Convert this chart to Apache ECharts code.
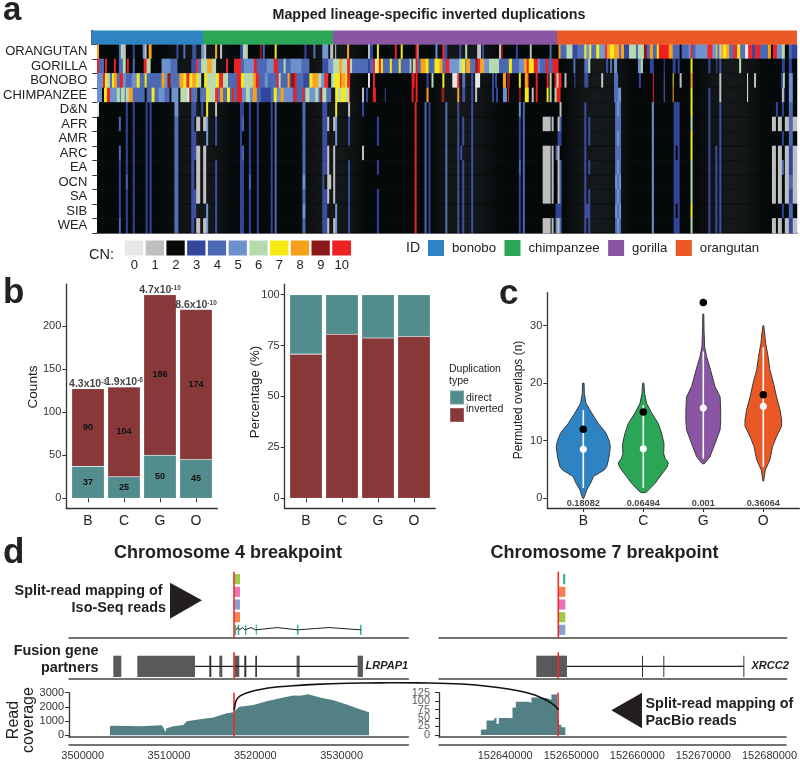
<!DOCTYPE html>
<html><head><meta charset="utf-8">
<style>html,body{margin:0;padding:0;background:#fff}#c{width:800px;height:761px}</style>
<script src="https://cdn.jsdelivr.net/npm/echarts@6/dist/echarts.min.js"></script>
</head><body><div id="c"></div>
<script>
// ---------- panel a ----------
const rowNames=['ORANGUTAN','GORILLA','BONOBO','CHIMPANZEE','D&N','AFR','AMR','ARC','EA','OCN','SA','SIB','WEA'];
const cnLabels=['0','1','2','3','4','5','6','7','8','9','10'];
const cnColors=['#e6e6e6','#bfbfbf','#060a0b','#33459b','#4c69b4','#6d91cd','#b6d9ae','#f5ea14','#f9a01b','#8b1a1a','#ee2024'];
const idNames=['bonobo','chimpanzee','gorilla','orangutan'];
const idColors=['#2e84c2','#2ba556','#8a55a2','#e95825'];
const idWidths=[111,130,224,240];
const nCols=705;
const orangutanRuns=[[0,2,8],[22,24,4],[24,26,6],[26,29,1],[36,38,3],[46,48,5],[48,50,1],[52,55,8],[80,82,3],[87,89,4],[96,100,3],[105,108,5],[108,110,1],[119,121,8],[124,126,1],[144,147,3],[147,150,6],[150,152,1],[164,166,9],[167,169,4],[179,181,7],[209,211,3],[218,220,4],[227,233,5],[235,238,1],[240,241,6],[252,254,8],[273,275,1],[275,278,3],[282,284,7],[300,302,10],[306,308,7],[321,323,10],[323,324,1],[341,343,5],[348,350,10],[350,353,3],[365,367,3],[371,373,6],[383,387,1],[388,390,3],[405,407,1],[407,409,9],[422,424,3],[436,438,1],[456,458,4],[465,467,8],[467,473,4],[473,475,6],[475,479,6],[479,484,3],[484,491,4],[491,493,7],[493,496,5],[496,498,7],[498,503,4],[503,506,7],[506,512,5],[512,514,10],[514,517,8],[517,521,7],[521,526,8],[526,528,4],[528,531,8],[531,536,3],[536,543,6],[543,545,4],[545,551,6],[551,554,9],[554,557,4],[557,560,8],[560,564,4],[564,566,7],[566,576,10],[576,580,8],[580,587,4],[589,596,4],[596,598,5],[598,600,10],[600,603,4],[603,615,5],[615,620,10],[620,624,5],[624,625,7],[625,627,4],[627,629,6],[629,631,8],[631,634,7],[634,637,8],[637,641,4],[641,645,10],[645,648,7],[648,653,4],[653,656,0],[656,660,10],[660,663,3],[663,668,10],[668,676,4],[676,679,8],[681,685,10],[685,690,5],[690,693,6],[697,700,4],[700,705,3]];
const gorillaRuns=[[0,2,10],[2,7,4],[8,10,10],[17,19,10],[22,26,4],[26,29,6],[30,32,10],[36,38,4],[47,50,10],[50,54,6],[65,74,5],[74,81,4],[95,100,3],[100,102,10],[102,105,4],[105,111,6],[111,116,8],[116,120,6],[130,132,10],[138,141,10],[141,145,10],[145,148,4],[148,158,5],[158,161,10],[161,171,4],[171,178,5],[178,182,10],[182,188,4],[188,190,6],[190,195,4],[195,206,5],[206,214,4],[227,233,3],[233,238,5],[238,244,6],[244,247,8],[247,252,6],[252,255,10],[255,257,6],[257,273,4],[273,275,3],[275,278,4],[278,280,10],[280,282,0],[282,284,7],[284,286,10],[286,288,7],[288,295,4],[295,297,7],[297,304,4],[304,306,7],[306,315,4],[315,317,1],[318,321,6],[321,323,10],[323,326,4],[326,331,8],[331,334,7],[334,340,4],[340,345,7],[345,348,8],[348,351,4],[351,355,10],[355,358,5],[358,365,5],[365,368,6],[368,371,7],[371,372,4],[372,376,8],[376,381,4],[381,384,9],[384,386,10],[386,390,8],[390,395,5],[395,405,6],[405,415,4],[415,418,7],[418,425,4],[425,430,5],[430,433,8],[433,435,10],[435,440,7],[440,444,10],[444,446,5],[446,452,4],[452,455,10],[455,459,4],[459,465,10],[480,482,4],[491,495,4],[495,497,6],[513,515,3],[517,519,4],[521,524,5],[545,548,5],[548,550,6],[557,561,3],[571,572,3],[580,583,3],[585,587,3],[598,600,7],[616,618,3],[624,625,3],[627,629,3],[647,649,6],[690,693,3],[697,700,3]];
const bonoboRuns=[[0,255,4],[0,6,5],[6,8,10],[8,10,7],[10,13,6],[15,17,7],[17,20,8],[23,26,10],[26,29,5],[35,40,5],[40,43,7],[48,50,7],[65,68,8],[68,71,5],[71,74,9],[83,87,8],[87,90,7],[90,93,10],[93,96,7],[96,100,8],[100,102,7],[102,105,6],[105,108,2],[108,111,7],[111,120,6],[120,123,7],[123,127,10],[127,132,6],[141,145,10],[145,148,7],[148,157,6],[157,160,8],[160,163,10],[169,172,5],[181,183,10],[183,185,6],[192,194,8],[195,199,9],[199,201,10],[208,214,3],[214,217,7],[217,223,8],[223,226,6],[226,229,5],[229,233,10],[233,236,2],[236,239,6],[239,245,7],[245,246,10],[246,250,8],[250,252,7],[252,255,10],[273,275,0],[278,280,10],[317,320,10],[321,323,10],[332,334,3],[337,339,6],[348,350,7],[358,363,0],[363,365,10],[368,371,4],[377,379,3],[381,386,0],[398,400,3],[401,403,3],[409,412,8],[413,416,9],[425,427,7],[431,434,8],[434,435,10],[442,444,10],[453,455,10],[456,458,6],[461,463,10],[463,465,6],[465,468,10],[471,473,1],[481,482,3],[491,495,3],[508,510,1],[521,525,4],[546,548,3],[560,561,10],[571,572,4],[580,581,7],[587,589,1],[598,600,8],[627,629,1],[655,656,0],[662,664,1],[689,691,3],[691,693,6],[697,701,5]];
const chimpanzeeRuns=[[0,255,4],[0,5,5],[5,7,2],[7,10,7],[10,13,10],[13,20,5],[20,23,6],[24,28,6],[29,32,6],[32,36,8],[40,48,4],[48,50,2],[55,58,7],[58,62,4],[62,68,5],[68,73,4],[73,75,2],[75,82,5],[82,84,2],[84,91,6],[91,93,0],[93,95,9],[101,104,2],[104,107,4],[110,113,7],[113,119,6],[119,122,10],[124,127,8],[127,131,4],[131,134,7],[136,138,10],[141,146,10],[146,157,5],[150,154,6],[157,161,8],[165,175,3],[178,181,7],[181,185,5],[185,188,8],[188,197,5],[198,201,10],[207,209,10],[210,214,6],[214,220,5],[220,223,6],[225,227,9],[227,231,6],[236,240,2],[240,243,7],[243,246,6],[246,251,7],[251,254,6],[254,255,10],[267,269,1],[271,273,3],[278,281,10],[290,291,3],[317,319,10],[321,323,10],[332,334,8],[347,350,9],[363,365,8],[368,371,3],[377,379,3],[381,383,1],[398,400,3],[402,404,3],[409,413,5],[414,415,10],[425,427,9],[431,435,7],[438,440,1],[442,444,10],[453,455,7],[456,458,6],[461,463,6],[463,465,10],[465,467,10],[521,525,4],[525,528,5],[560,561,10],[571,572,4],[580,581,8],[598,600,7],[616,618,3],[627,629,1],[655,656,0],[690,692,1],[692,693,3],[697,701,5]];
// population rows: start, end, copy numbers for D&N AFR AMR ARC EA OCN SA SIB WEA (a = 10)
const populationRuns=[[0,2,'022222222'],[22,24,'242433334'],[29,31,'333334333'],[36,38,'333333333'],[49,51,'333333333'],[53,55,'333333333'],[78,82,'544444444'],[95,98,'333333333'],[98,100,'323322332'],[100,104,'212111121'],[105,107,'322222222'],[107,110,'212111121'],[110,112,'755222255'],[119,121,'133233333'],[144,146,'333333333'],[146,148,'342433333'],[153,155,'333334333'],[161,163,'333333333'],[175,177,'333333333'],[179,181,'444444444'],[207,210,'444445454'],[227,232,'333333333'],[229,232,'333332333'],[232,234,'212111121'],[234,236,'222221222'],[238,240,'212111121'],[240,242,'755222255'],[253,255,'133233333'],[267,269,'322122222'],[282,284,'233232333'],[320,322,'aaaaaaaaa'],[330,332,'444444444'],[334,336,'333333333'],[351,353,'444444444'],[363,365,'333333333'],[366,368,'222322222'],[368,370,'233233333'],[377,379,'333333333'],[425,427,'533343333'],[429,431,'444444444'],[449,457,'212111121'],[458,460,'212111121'],[462,464,'222422235'],[464,466,'213111131'],[466,468,'143244434'],[491,493,'333333333'],[493,495,'222222232'],[495,497,'233232333'],[522,528,'444445454'],[524,526,'545454545'],[559,561,'555555555'],[581,587,'333333333'],[583,585,'333233323'],[598,600,'767766676'],[616,618,'333333333'],[623,625,'222333333'],[627,629,'333333333'],[680,684,'212111121'],[684,686,'322222222'],[686,690,'212111121'],[690,692,'323242232'],[693,697,'212111121'],[697,701,'444334343'],[701,705,'212111121']];

// ---------- panel b ----------
const speciesLetters=['B','C','G','O'];
const speciesPos=[1,2,3,4];
const directCounts=[37,25,50,45];
const invertedCounts=[90,104,186,174];
const countTotals=[127,129,236,219];
const pMantissa=['4.3x10','1.9x10','4.7x10','8.6x10'];
const pExponent=['-3','-6','-10','-10'];
const invertedPct=[70.8,80.5,78.7,79.4];
const directPct=[29.2,19.5,21.3,20.6];
const barTeal='#528c8c', barRed='#89383a';

// ---------- panel c: [overlaps, half width] ----------
const violinB=[[0,.01],[.3,.02],[1.45,.055],[2.6,.12],[3.8,.17],[4.9,.345],[5.5,.39],[6.7,.42],[8,.44],[9,.45],[10,.43],[11.3,.38],[12,.33],[13,.25],[14,.19],[14.8,.14],[16.5,.045],[18.2,.017],[20,.012]];
const violinC=[[1,.045],[2.6,.195],[3.8,.28],[4.9,.36],[5.5,.4],[6.2,.417],[7,.36],[7.8,.34],[9.5,.345],[11.3,.305],[13,.25],[14.8,.14],[16.5,.055],[18.2,.022],[20,.01]];
const violinG=[[6,.016],[7.2,.11],[9.5,.195],[11.9,.28],[13.6,.29],[15.3,.29],[17.6,.28],[19.4,.195],[22.3,.12],[24.6,.055],[26.3,.022],[29.2,.012],[32,.008]];
const violinO=[[3,.006],[4.9,.033],[6.7,.11],[9,.155],[10.7,.22],[12.5,.305],[13.6,.305],[15.3,.28],[17.6,.22],[20,.17],[22.3,.11],[24.6,.08],[26.9,.04],[29.2,.017],[30,.006]];
const violinColors=['#2e84c2','#2ba556','#8a55a2','#e95825'];
const whiskerLow=[1.8,1.8,6.9,5.5];
const whiskerHigh=[15.3,16.2,25.5,26.2];
const medians=[8.5,8.6,15.7,16];
const observed=[12,15,34,18];
const permP=['0.18082','0.06494','0.001','0.36064'];

// ---------- panel d ----------
const isoColors=['#9ccc45','#e874b8','#86a0d2','#f97f52','#43b48c'];
const chr4Break=3517532, chr7Break=152648006;
const iso4=[[3517567,3518227,1,0],[3517567,3518227,2,1],[3517567,3518227,3,2],[3517567,3518227,4,3],[3517644,3517763,5,4],[3517960,3518146,5,4],[3518807,3518958,5,4],[3520046,3520162,5,4],[3524820,3525000,5,4],[3532130,3532320,5,4]];
const iso7=[[152648711,152649063,1,4],[152648006,152649063,2,3],[152648006,152649063,3,1],[152648006,152649063,4,0],[152648006,152649063,5,2]];
const modelX=[3517763,3517960,3518146,3518540,3518807,3518958,3519502,3520046,3520162,3522549,3524913,3528540,3532248];
const modelY=[5,4.82,5,4.82,5,5,4.82,5,5,4.82,5,4.82,5];
const exons4=[[3503548,3504475],[3506329,3513010],[3514671,3514902],[3515829,3516177],[3517567,3518146],[3518726,3518958],[3520000,3520193],[3524789,3525137],[3531857,3532475]];
const intron4=[3513010,3531857];
const exons7=[[152644683,152649315],[152660650,152660740],[152663870,152663960],[152675960,152676050]];
const intron7=[152649315,152676000];
const cov4X=[3503163,3503549,3506639,3509149,3509342,3509574,3509728,3510501,3511660,3511853,3512046,3513591,3515136,3516681,3517453,3518148,3519770,3521315,3523246,3524405,3525177,3526142,3527494,3529039,3530584,3532129,3533172];
const cov4Y=[650,672,627,694,538,224,493,627,717,605,986,1120,1254,1546,1613,2016,2128,2397,2666,2800,2778,2890,2666,2464,2173,1837,1613];
const cov7X=[152636324,152637180,152638338,152638691,152639043,152640201,152641108,152641611,152643474,152643978,152644733,152646243,152646999,152647855,152648157,152648509,152649113];
const cov7Y=[16,43,49,33,50,49,81,98,95,111,109,104,120,86,30,23,23];
const arcX=[0,.005,.016,.045,.08,.13,.18,.25,.35,.45,.5,.6,.7,.78,.85,.92,.965,.99,1];
const arcY=[0,.32,.5,.65,.75,.84,.89,.94,.98,.995,1,.99,.95,.87,.76,.58,.35,.15,0];

const F='"Liberation Sans",Arial,sans-serif';
const axisC='#333';

function expand(base,runs){const a=new Array(nCols).fill(base);runs.forEach(r=>{for(let i=r[0];i<r[1]&&i<nCols;i++)a[i]=r[2];});return a;}
const rowVals=[expand(2,orangutanRuns),expand(2,gorillaRuns),expand(2,bonoboRuns),expand(2,chimpanzeeRuns)];
for(let p=0;p<9;p++){rowVals.push(expand(2,populationRuns.map(r=>[r[0],r[1],parseInt(r[2][p],16)])));}
const heatData=[];rowVals.forEach((v,y)=>v.forEach((c,x)=>heatData.push([x,y,c])));
const colCats=Array.from({length:nCols},(_,i)=>String(i));

const grids=[],xAxes=[],yAxes=[],series=[];
function addGrid(g,x,y){grids.push(g);const i=grids.length-1;xAxes.push(Object.assign({gridIndex:i},x));yAxes.push(Object.assign({gridIndex:i},y));return i;}
const hidden={show:false};
function line(color,width){return {show:true,onZero:false,lineStyle:{color:color||axisC,width:width||1.3}};}
const noTick={show:false};

let g=addGrid({left:92,top:30.5,width:705,height:14},{type:'value',min:0,max:705,show:false},
 {type:'category',data:['ID'],axisLine:line(axisC,1.5),axisTick:noTick,axisLabel:hidden});
idNames.forEach((n,i)=>series.push({type:'bar',name:n,stack:'id',xAxisIndex:g,yAxisIndex:g,data:[idWidths[i]],barWidth:'100%',itemStyle:{color:idColors[i]},silent:true}));
g=addGrid({left:92,top:44.5,width:705,height:188.5},{type:'category',data:colCats,axisLine:line('#8c8c8c',2),axisTick:noTick,axisLabel:hidden,splitLine:hidden},
 {type:'category',data:rowNames,inverse:true,axisLine:line(axisC,1.5),axisTick:{show:true,length:5,lineStyle:{color:axisC}},axisLabel:{interval:0,fontFamily:F,fontSize:13,color:'#222',margin:10},splitLine:hidden});
const heatIndex=series.length;
series.push({type:'heatmap',xAxisIndex:g,yAxisIndex:g,data:heatData,progressive:0,silent:true,emphasis:{disabled:true}});
g=addGrid({left:124,top:239.5,width:228,height:17},{type:'category',data:cnLabels,axisLine:hidden,axisTick:noTick,axisLabel:{fontFamily:F,fontSize:13,color:'#222',margin:2,interval:0}},
 {type:'category',data:['CN'],show:false});
const cnIndex=series.length;
series.push({type:'heatmap',xAxisIndex:g,yAxisIndex:g,data:cnLabels.map((_,i)=>[i,0,i]),progressive:0,silent:true,itemStyle:{borderColor:'#fff',borderWidth:2.4}});

function speciesAxis(){return {type:'value',min:.4,max:4.6,axisLine:line(axisC,1.3),splitLine:hidden,
  axisTick:{show:true,length:4,lineStyle:{color:axisC},customValues:speciesPos},
  axisLabel:{customValues:speciesPos,formatter:v=>speciesLetters[Math.round(v)-1],fontFamily:F,fontSize:14,color:'#222',margin:6}};}
function valAxis(min,max,ticks){return {type:'value',min,max,axisLine:line(axisC,1.3),splitLine:hidden,
  axisTick:{show:true,length:4,lineStyle:{color:axisC},customValues:ticks},
  axisLabel:{customValues:ticks,showMinLabel:true,showMaxLabel:true,formatter:v=>String(v),fontFamily:F,fontSize:11,color:'#333',margin:5}};}
// bars on a category scale over a wider frame that carries the axis lines
function barFrame(frameLeft,frameWidth,yMin,yMax,ticks,barLeft){
 addGrid({left:frameLeft,top:284.2,width:frameWidth,height:224.1},{type:'value',min:0,max:1,axisLine:line(axisC,1.3),axisTick:noTick,axisLabel:hidden,splitLine:hidden},valAxis(yMin,yMax,ticks));
 return addGrid({left:barLeft,top:284.2,width:144,height:224.1},
  {type:'category',data:speciesLetters,axisLine:{show:false},axisTick:{show:true,alignWithLabel:true,length:4,lineStyle:{color:axisC}},axisLabel:{interval:0,fontFamily:F,fontSize:14,color:'#222',margin:6}},
  {type:'value',min:yMin,max:yMax,show:false});
}
g=barFrame(66.3,151,-11.6,248.3,[0,50,100,150,200],70);
const numLabel={show:true,position:'inside',fontFamily:F,fontSize:9,fontWeight:'bold',color:'#111'};
const barBorder=c=>({color:c,borderColor:'rgba(255,255,255,.2)',borderWidth:.6});
series.push({type:'bar',name:'direct',stack:'n',xAxisIndex:g,yAxisIndex:g,barWidth:32.5,data:directCounts,itemStyle:barBorder(barTeal),label:numLabel});
series.push({type:'bar',name:'inverted',stack:'n',xAxisIndex:g,yAxisIndex:g,barWidth:32.5,data:invertedCounts,itemStyle:barBorder(barRed),label:numLabel});
series.push({type:'scatter',xAxisIndex:g,yAxisIndex:g,symbolSize:0,silent:true,data:countTotals,
 label:{show:true,position:'top',distance:-1,formatter:p=>'{a|'+pMantissa[p.dataIndex]+'}{b|'+pExponent[p.dataIndex]+'}',
 rich:{a:{fontFamily:F,fontSize:10.5,fontWeight:'bold',color:'#111',lineHeight:11},b:{fontFamily:F,fontSize:6.5,fontWeight:'bold',color:'#111',lineHeight:11,verticalAlign:'top'}}}});
g=barFrame(284.7,150.6,-4.9,105.1,[0,25,50,75,100],288);
series.push({type:'bar',name:'inverted',stack:'p',xAxisIndex:g,yAxisIndex:g,barWidth:32.5,data:invertedPct,itemStyle:barBorder(barRed)});
series.push({type:'bar',name:'direct',stack:'p',xAxisIndex:g,yAxisIndex:g,barWidth:32.5,data:directPct,itemStyle:barBorder(barTeal)});
g=addGrid({left:547.3,top:292.7,width:252,height:215.3},speciesAxis(),valAxis(-1.68,35.7,[0,10,20,30]));
const violins=[violinB,violinC,violinG,violinO];
series.push({type:'custom',xAxisIndex:g,yAxisIndex:g,silent:true,data:speciesPos.map((x,i)=>[x,medians[i]]),encode:{x:0,y:1},clip:false,
 renderItem:(p,api)=>{const i=p.dataIndex,x=api.value(0),v=violins[i];
  const pts=v.map(d=>api.coord([x-d[1],d[0]])).concat(v.slice().reverse().map(d=>api.coord([x+d[1],d[0]])));
  const a=api.coord([x,whiskerLow[i]]),b=api.coord([x,whiskerHigh[i]]);
  return {type:'group',children:[
   {type:'polygon',shape:{points:pts},style:{fill:violinColors[i],stroke:'#3a3a3a',lineWidth:1}},
   {type:'line',shape:{x1:a[0],y1:a[1],x2:b[0],y2:b[1]},style:{stroke:'#fff',lineWidth:1.6}}]};}});
series.push({type:'scatter',xAxisIndex:g,yAxisIndex:g,silent:true,symbolSize:7,itemStyle:{color:'#fff',opacity:1},data:speciesPos.map((x,i)=>[x,medians[i]])});
series.push({type:'scatter',xAxisIndex:g,yAxisIndex:g,silent:true,symbolSize:7.5,itemStyle:{color:'#000',opacity:1},data:speciesPos.map((x,i)=>[x,observed[i]])});
series.push({type:'scatter',xAxisIndex:g,yAxisIndex:g,silent:true,symbolSize:0,data:speciesPos.map((x,i)=>[x,-.9]),
 label:{show:true,position:'inside',formatter:p=>permP[p.dataIndex],fontFamily:F,fontSize:9.2,fontWeight:'bold',color:'#111'}});

const xR4=[3498413,3537729], xR7=[152629985,152682508];
function trackX(r,extra){return Object.assign({type:'value',min:r[0],max:r[1],axisLine:line('#444',1.5),axisTick:noTick,axisLabel:hidden,splitLine:hidden},extra||{});}
const rectRender=(h)=>(p,api)=>{const a=api.coord([api.value(0),api.value(2)-h]),b=api.coord([api.value(1),api.value(2)+h]);
  return {type:'rect',shape:{x:a[0],y:a[1],width:Math.max(b[0]-a[0],1.2),height:b[1]-a[1]},style:{fill:isoColors[api.value(3)]}};};
function redLine(g,x,y0,y1){series.push({type:'line',xAxisIndex:g,yAxisIndex:g,silent:true,symbol:'none',z:5,lineStyle:{color:'#ee2a2a',width:1.6},data:[[x,y0],[x,y1]]});}
function isoTrack(left,width,range,rects,brk){
 const g=addGrid({left,top:571.7,width,height:66},trackX(range),{type:'value',min:.41,max:5.62,inverse:true,show:false});
 series.push({type:'custom',xAxisIndex:g,yAxisIndex:g,silent:true,data:rects,encode:{x:[0,1],y:2},renderItem:rectRender(.4)});
 redLine(g,brk,.41,5.62);return g;}
g=isoTrack(69,339.3,xR4,iso4,chr4Break);
series.push({type:'line',xAxisIndex:g,yAxisIndex:g,silent:true,symbol:'none',lineStyle:{color:'#222',width:1},data:modelX.map((x,i)=>[x,modelY[i]])});
isoTrack(439,347.7,xR7,iso7,chr7Break);

function fusionTrack(left,width,range,exons,intron,brk){
 const g=addGrid({left,top:652.3,width,height:26},trackX(range),{type:'value',min:0,max:1,show:false});
 series.push({type:'line',xAxisIndex:g,yAxisIndex:g,silent:true,symbol:'none',lineStyle:{color:'#222',width:1.2},data:[[intron[0],.46],[intron[1],.46]]});
 series.push({type:'custom',xAxisIndex:g,yAxisIndex:g,silent:true,data:exons,encode:{x:[0,1]},
  renderItem:(p,api)=>{const a=api.coord([api.value(0),.87]),b=api.coord([api.value(1),.05]);const w=b[0]-a[0];
   return {type:'rect',shape:{x:a[0],y:a[1],width:Math.max(w,1),height:b[1]-a[1]},style:{fill:w<3?'#333':'#595959'}};}});
 redLine(g,brk,0,1);return g;}
fusionTrack(69,339.3,xR4,exons4,intron4,chr4Break);
fusionTrack(439,347.7,xR7,exons7,intron7,chr7Break);

function covTrack(left,width,range,yr,ticks,xs,ys,step,brk,xticks,tightLabels){
 const g=grids.length;
 grids.push({left,top:692.7,width,height:46.3});
 xAxes.push(trackX(range,{gridIndex:g}));
 xAxes.push({gridIndex:g,type:'value',min:range[0],max:range[1],position:'bottom',offset:7.7,axisLine:line('#444',1.5),axisTick:noTick,splitLine:hidden,
   axisLabel:{customValues:xticks,formatter:v=>String(v),fontFamily:F,fontSize:11,color:'#333',margin:5.5,showMinLabel:true,showMaxLabel:true}});
 const xPrimary=xAxes.length-2;
 const ya=Object.assign({gridIndex:g},valAxis(yr[0],yr[1],ticks));
 if(tightLabels){ya.axisLabel=Object.assign({},ya.axisLabel,{show:false});}
 yAxes.push(ya);
 const yi=yAxes.length-1;
 series.push({type:'line',xAxisIndex:xPrimary,yAxisIndex:yi,silent:true,symbol:'none',step:step,lineStyle:{width:0},areaStyle:{color:'#528085',opacity:1},data:xs.map((x,i)=>[x,ys[i]])});
 series.push({type:'line',xAxisIndex:xPrimary,yAxisIndex:yi,silent:true,symbol:'none',z:5,lineStyle:{color:'#ee2a2a',width:1.6},data:[[brk,yr[0]],[brk,yr[1]]]});
 // ticks closer than a line of text: every label is kept, as in the source figure
 if(tightLabels){series.push({type:'scatter',xAxisIndex:xPrimary,yAxisIndex:yi,silent:true,symbolSize:0,clip:false,data:ticks.map(t=>[range[0],t]),
   labelLayout:{hideOverlap:false},
   label:{show:true,position:'left',distance:9,formatter:p=>String(p.value[1]),fontFamily:F,fontSize:11,color:'#333'}});}
}
covTrack(69,339.3,xR4,[-114,3000],[0,1000,2000,3000],cov4X,cov4Y,false,chr4Break,[3500000,3510000,3520000,3530000]);
covTrack(439,347.7,xR7,[-5.6,125],[0,25,50,75,100,125],cov7X,cov7Y,'end',chr7Break,[152640000,152650000,152660000,152670000,152680000],true);

const arcGrid=grids.length;
grids.push({left:234.3,top:682.7,width:324,height:27.3});
xAxes.push({gridIndex:arcGrid,type:'value',min:0,max:1,show:false});
yAxes.push({gridIndex:arcGrid,type:'value',min:0,max:1,show:false});
series.push({type:'line',xAxisIndex:xAxes.length-1,yAxisIndex:yAxes.length-1,silent:true,symbol:'none',smooth:.3,z:6,lineStyle:{color:'#111',width:1.6},data:arcX.map((x,i)=>[x,arcY[i]])});

function txt(t,x,y,font,o){o=o||{};return {type:'text',x,y,rotation:o.rot||0,silent:true,z:10,style:{text:t,font,fill:o.fill||'#222',align:o.align||'left',verticalAlign:'middle'}};}
const B=s=>'bold '+s+'px '+F, N=s=>s+'px '+F;
const graphics=[
 txt('a',3,11,B(33)),txt('b',3,293,B(35)),txt('c',499,294,B(35)),txt('d',3,553,B(35)),
 txt('CN:',89,255,N(14.5)),txt('ID',406,248,N(14)),
 txt('Counts',33,387,N(13.6),{rot:Math.PI/2,align:'center'}),
 txt('Percentage (%)',255,392,N(13.3),{rot:Math.PI/2,align:'center'}),
 txt('Permuted overlaps (n)',519,400,N(12),{rot:Math.PI/2,align:'center'}),
 txt('Duplication',449,369,N(10.5)),txt('type',449,381,N(10.5)),
 txt('direct',466,398,N(10.5)),txt('inverted',466,409,N(10.5)),
 txt('Split-read mapping of',162.5,591,B(14.4),{align:'right'}),txt('Iso-Seq reads',166,608,B(14.4),{align:'right'}),
 txt('Fusion gene',98.5,651,B(14.4),{align:'right'}),txt('partners',98.5,668.5,B(14.4),{align:'right'}),
 txt('Read',13.5,720,N(16),{rot:Math.PI/2,align:'center'}),txt('coverage',28.5,720,N(16),{rot:Math.PI/2,align:'center'}),
 txt('LRPAP1',365.5,666,'italic bold 11px '+F),txt('XRCC2',751.5,666,'italic bold 11px '+F),
 txt('Split-read mapping of',645.5,703.7,B(14.4)),txt('PacBio reads',645.5,721.3,B(14.4)),
 {type:'polygon',silent:true,shape:{points:[[170,582.7],[202,600.3],[170,618.7]]},style:{fill:'#231f20'}},
 {type:'polygon',silent:true,shape:{points:[[642,692.7],[611.3,710.3],[642,728.3]]},style:{fill:'#231f20'}}
];
const chart=echarts.init(document.getElementById('c'),null,{renderer:'canvas'});
chart.setOption({
 animation:false,backgroundColor:'#fff',
 title:[
  {text:'Mapped lineage-specific inverted duplications',left:424,top:3,textAlign:'center',textStyle:{fontFamily:F,fontSize:14.3,fontWeight:'bold',color:'#222'}},
  {text:'Chromosome 4 breakpoint',left:223,top:539,textAlign:'center',textStyle:{fontFamily:F,fontSize:18,fontWeight:'bold',color:'#222'}},
  {text:'Chromosome 7 breakpoint',left:599.5,top:539,textAlign:'center',textStyle:{fontFamily:F,fontSize:18,fontWeight:'bold',color:'#222'}}
 ],
 legend:[
  {data:idNames,left:428,top:240,itemWidth:16,itemHeight:16,itemGap:8.5,selectedMode:false,padding:0,textStyle:{fontFamily:F,fontSize:13.2,color:'#222',padding:[0,0,0,3]},icon:'rect'},
  {data:['direct','inverted'],orient:'vertical',left:449,top:389.5,itemWidth:14,itemHeight:14,itemGap:1.5,selectedMode:false,padding:0,formatter:()=>' ',textStyle:{fontFamily:F,fontSize:10.5,color:'#222'},icon:'rect'}
 ],
 visualMap:{type:'piecewise',show:false,dimension:2,seriesIndex:[heatIndex,cnIndex],pieces:cnColors.map((c,i)=>({value:i,color:c}))},
 grid:grids,xAxis:xAxes,yAxis:yAxes,series,graphic:graphics
});
</script>
</body></html>
